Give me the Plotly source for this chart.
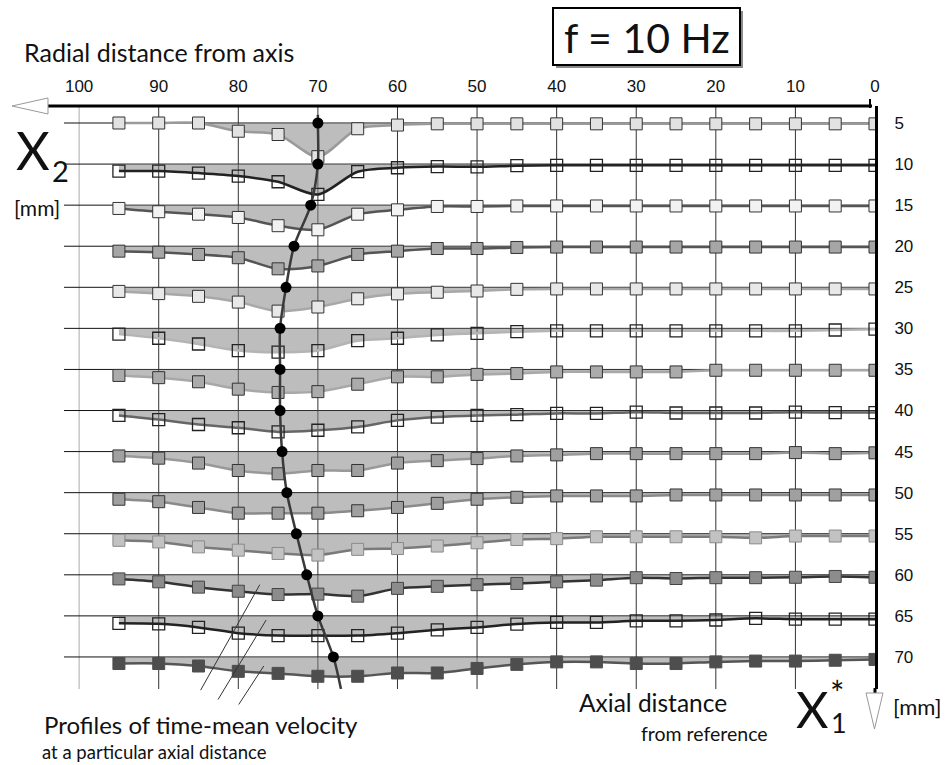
import plotly.graph_objects as go

# ---------------- data ----------------
rows = [5, 10, 15, 20, 25, 30, 35, 40, 45, 50, 55, 60, 65, 70]          # X2 [mm]
radial = [95, 90, 85, 80, 75, 70, 65, 60, 55, 50, 45, 40, 35, 30, 25, 20, 15, 10, 5, 0]
x_ticks = [100, 90, 80, 70, 60, 50, 40, 30, 20, 10, 0]

# profile deflection (drawn downward from each row baseline), one value per radial position
prof_05 = [0.0, 0.0, 0.0, 1.0, 1.4, 4.1, 0.7, 0.25, 0.1, 0.1, 0.1, 0.1, 0.1, 0.1, 0.1, 0.1, 0.1, 0.1, 0.1, 0.1]
prof_10 = [0.85, 0.85, 1.1, 1.46, 2.15, 3.7, 0.93, 0.45, 0.3, 0.33, 0.2, 0.15, 0.15, 0.15, 0.15, 0.15, 0.15, 0.15, 0.15, 0.15]
prof_15 = [0.4, 0.8, 1.1, 1.5, 2.5, 3.0, 1.1, 0.57, 0.16, 0.16, 0.1, 0.1, 0.1, 0.1, 0.1, 0.1, 0.1, 0.1, 0.1, 0.1]
prof_20 = [0.6, 0.73, 1.0, 1.4, 2.75, 2.4, 1.0, 0.6, 0.28, 0.28, 0.15, 0.1, 0.1, 0.1, 0.1, 0.1, 0.1, 0.1, 0.1, 0.1]
prof_25 = [0.5, 0.77, 1.1, 1.8, 2.9, 2.4, 1.4, 0.8, 0.6, 0.45, 0.25, 0.2, 0.2, 0.2, 0.2, 0.2, 0.2, 0.2, 0.2, 0.2]
prof_30 = [0.7, 1.2, 1.9, 2.7, 2.9, 2.7, 1.5, 1.2, 0.8, 0.6, 0.4, 0.3, 0.3, 0.3, 0.3, 0.3, 0.3, 0.3, 0.2, 0.1]
prof_35 = [0.73, 1.0, 1.5, 2.4, 2.8, 2.7, 1.8, 0.9, 0.9, 0.6, 0.5, 0.3, 0.3, 0.3, 0.3, 0.1, 0.1, 0.1, 0.1, 0.1]
prof_40 = [0.6, 1.1, 1.7, 2.1, 2.6, 2.4, 2.0, 1.2, 0.8, 0.6, 0.5, 0.35, 0.35, 0.2, 0.3, 0.3, 0.3, 0.2, 0.25, 0.25]
prof_45 = [0.53, 0.8, 1.4, 2.3, 2.7, 2.3, 2.3, 1.4, 1.1, 0.85, 0.53, 0.4, 0.25, 0.25, 0.25, 0.25, 0.25, 0.12, 0.25, 0.15]
prof_50 = [0.8, 1.1, 1.8, 2.5, 2.5, 2.5, 2.2, 1.8, 1.3, 0.8, 0.56, 0.4, 0.4, 0.4, 0.28, 0.28, 0.28, 0.28, 0.28, 0.28]
prof_55 = [0.8, 1.0, 1.6, 2.0, 2.4, 2.6, 1.9, 1.8, 1.5, 1.1, 0.7, 0.6, 0.37, 0.37, 0.37, 0.37, 0.5, 0.28, 0.28, 0.28]
prof_60 = [0.5, 0.85, 1.5, 2.0, 2.4, 2.35, 2.6, 1.65, 1.4, 1.2, 1.05, 0.85, 0.65, 0.35, 0.45, 0.35, 0.35, 0.3, 0.2, 0.3]
prof_65 = [0.9, 0.97, 1.4, 2.1, 2.4, 2.4, 2.4, 2.1, 1.7, 1.4, 1.0, 0.8, 0.8, 0.6, 0.6, 0.5, 0.3, 0.4, 0.4, 0.4]
prof_70 = [0.8, 0.8, 1.1, 1.75, 2.0, 2.35, 2.35, 1.95, 1.95, 1.4, 0.9, 0.6, 0.6, 0.8, 0.8, 0.6, 0.5, 0.5, 0.4, 0.3]
profiles = [prof_05, prof_10, prof_15, prof_20, prof_25, prof_30, prof_35,
            prof_40, prof_45, prof_50, prof_55, prof_60, prof_65, prof_70]

# locus of the profile maxima (black dots, one per row)
peak_x = [70.0, 70.0, 70.9, 73.0, 74.0, 74.75, 74.75, 74.75, 74.5, 73.9, 72.7, 71.4, 70.0, 68.05]
peak_top = [70.0, 4.0]      # start of the locus line above the first row
peak_end = [67.1, 73.9]     # end of the locus line below the last row

# ---------------- styles ----------------
line_colors = ['#9a9a9a', '#222222', '#555555', '#555555', '#a8a8a8', '#b4b4b4', '#a8a8a8',
               '#666666', '#999999', '#8a8a8a', '#7a7a7a', '#333333', '#222222', '#555555']
marker_fill = ['#e2e2e2', None, '#f2f2f2', '#a6a6a6', '#e8e8e8', None, '#ababab',
               None, '#a0a0a0', '#a0a0a0', '#c2c2c2', '#8c8c8c', None, '#4e4e4e']
marker_edge = ['#333333', '#222222', '#333333', '#333333', '#333333', '#222222', '#333333',
               '#222222', '#333333', '#333333', '#8a8a8a', '#444444', '#222222', '#4e4e4e']
FILL = 'rgba(128,128,128,0.52)'
TXT = 'Lato, "Open Sans", sans-serif'
NUM = '"Liberation Sans", Arial, sans-serif'

# plot area in pixels
L, R, T, B = 64, 875, 106, 689
W, H = 949, 765


def px(x):
    return (x - L) / (R - L)


def py(y):
    return (B - y) / (B - T)


fig = go.Figure()

for i, r in enumerate(rows):
    ys = [r + d for d in profiles[i]]
    fig.add_trace(go.Scatter(x=radial, y=[r] * len(radial), mode='lines',
                             line=dict(width=0, color='rgba(0,0,0,0)'),
                             hoverinfo='skip', showlegend=False))
    if marker_fill[i] is None:
        mk = dict(symbol='square-open', size=12, color=marker_edge[i], line=dict(width=1.3, color=marker_edge[i]))
    else:
        mk = dict(symbol='square', size=12, color=marker_fill[i], line=dict(width=1, color=marker_edge[i]))
    fig.add_trace(go.Scatter(x=radial, y=ys, mode='lines+markers', fill='tonexty', fillcolor=FILL,
                             line=dict(color=line_colors[i], width=2.5, shape='spline', smoothing=0.8),
                             marker=mk, showlegend=False, name='X2 = %d mm' % r))

# locus line + dots
fig.add_trace(go.Scatter(x=[peak_top[0]] + peak_x + [peak_end[0]],
                         y=[peak_top[1]] + rows + [peak_end[1]],
                         mode='lines', line=dict(color='#3a3a3a', width=2.5, shape='spline', smoothing=0.8),
                         hoverinfo='skip', showlegend=False))
fig.add_trace(go.Scatter(x=peak_x, y=rows, mode='markers',
                         marker=dict(symbol='circle', size=11, color='#000000'),
                         showlegend=False, name='maximum'))

shapes = []
# vertical grid lines
for v in x_ticks[:-1]:
    shapes.append(dict(type='line', xref='x', yref='paper', x0=v, x1=v, y0=0, y1=1,
                       line=dict(color='#aaaaaa' if v == 100 else '#333333', width=1), layer='below'))
# row baselines
for r in rows:
    shapes.append(dict(type='line', xref='paper', yref='y', x0=0, x1=1, y0=r, y1=r,
                       line=dict(color='#111111', width=1), layer='below'))
# top axis line with left arrow
shapes.append(dict(type='line', xref='paper', yref='paper', x0=px(47), x1=px(872), y0=py(106), y1=py(106),
                   line=dict(color='#000000', width=3)))
shapes.append(dict(type='line', xref='paper', yref='paper', x0=px(870), x1=px(870), y0=py(99), y1=py(108),
                   line=dict(color='#000000', width=2)))
shapes.append(dict(type='path', xref='paper', yref='paper',
                   path='M %f %f L %f %f L %f %f Z' % (px(12), py(106), px(48), py(98), px(48), py(114)),
                   fillcolor='white', line=dict(color='#999999', width=1)))
# right axis extension + down arrow
shapes.append(dict(type='line', xref='paper', yref='paper', x0=px(875), x1=px(875), y0=py(688), y1=py(693),
                   line=dict(color='#000000', width=3)))
shapes.append(dict(type='path', xref='paper', yref='paper',
                   path='M %f %f L %f %f L %f %f Z' % (px(866), py(693), px(883), py(693), px(874.5), py(729)),
                   fillcolor='white', line=dict(color='#999999', width=1)))
# frequency box with shadow
shapes.append(dict(type='rect', xref='paper', yref='paper', x0=px(556), x1=px(743), y0=py(11), y1=py(68),
                   fillcolor='#8a8a8a', line=dict(width=0)))
shapes.append(dict(type='rect', xref='paper', yref='paper', x0=px(553), x1=px(740), y0=py(8), y1=py(65),
                   fillcolor='white', line=dict(color='#000000', width=2)))


def txt(x, y, s, size, font=TXT, xanchor='left'):
    return dict(x=px(x), y=py(y), xref='paper', yref='paper', text=s, showarrow=False,
                xanchor=xanchor, yanchor='middle', font=dict(family=font, size=size, color='#111111'))


annotations = [
    txt(646.5, 37, 'f = 10 Hz', 41, xanchor='center'),
    txt(22, 52, 'Radial distance from axis', 25),
    txt(14, 150, 'X', 52),
    txt(50, 170, '2', 29),
    txt(12, 207, '[mm]', 21),
    txt(42, 724, 'Profiles of time-mean velocity', 24),
    txt(40, 752, 'at a particular axial distance', 18.5),
    txt(577, 702, 'Axial distance', 24.5),
    txt(639, 734, 'from reference', 19.5),
    txt(794, 709, 'X', 50),
    txt(829, 722, '1', 27),
    txt(828, 693, '*', 34),
    txt(891, 706, '[mm]', 22),
]
# leader lines from the caption to the profiles
for hx, hy, ax, ay in [(77.3, 61.2, -60, 107), (76.5, 65.5, -49, 81), (76.8, 71.1, -26, 40)]:
    annotations.append(dict(x=hx, y=hy, xref='x', yref='y', text='', showarrow=True, arrowhead=0,
                            arrowwidth=1, arrowcolor='#333333', ax=ax, ay=ay, standoff=0, startstandoff=0))

fig.update_layout(
    width=W, height=H, margin=dict(l=L, r=W - R, t=T, b=H - B),
    plot_bgcolor='white', paper_bgcolor='white', showlegend=False,
    shapes=shapes, annotations=annotations,
    xaxis=dict(range=[101.9, 0], side='top', tickvals=x_ticks, ticktext=[str(v) for v in x_ticks],
               showgrid=False, zeroline=False, showline=False, ticks='outside', ticklen=6,
               tickcolor='rgba(0,0,0,0)', tickfont=dict(family=NUM, size=17, color='#111111')),
    yaxis=dict(range=[73.9, 2.93], side='right', tickvals=rows, ticktext=[str(r) for r in rows],
               showgrid=False, zeroline=False, showline=True, linewidth=3, linecolor='#000000',
               ticks='', ticklabelstandoff=13, tickfont=dict(family=NUM, size=17, color='#111111')),
)

fig.write_html('out.html', config={'displayModeBar': False},
               post_script="document.body.style.margin='0';document.body.style.overflow='hidden';")
